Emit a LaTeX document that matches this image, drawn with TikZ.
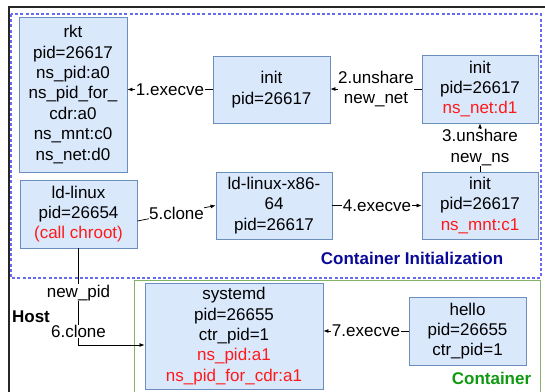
\documentclass[tikz,border=0pt]{standalone}
\usepackage{fontspec}
\setmainfont{Liberation Sans}
\usetikzlibrary{arrows.meta}
\definecolor{procfill}{HTML}{DAE8FC}
\definecolor{procdraw}{HTML}{6C8EBF}
\definecolor{nsred}{HTML}{FF1A1A}
\definecolor{initblue}{HTML}{0A0A99}
\definecolor{initdash}{HTML}{6A6AF0}
\definecolor{ctrgreen}{HTML}{119911}
\definecolor{ctrdraw}{HTML}{82B366}

\begin{document}
\begin{tikzpicture}[x=1pt,y=-1pt,
  font=\fontsize{17}{20.4}\selectfont,
  proc/.style={draw=procdraw,fill=procfill,align=center,inner sep=0pt,line width=0.9pt},
  arr/.style={-{Latex[length=5pt,width=4pt]},line width=0.7pt},
  lbl/.style={fill=white,inner sep=0.5pt,align=center}]

  \clip (0,0) rectangle (545,391);

  % host, init area and container frames
  \draw[line width=1.2pt,black!85] (9,400) -- (9,7) -- (560,7);
  \draw[initdash,line width=1.1pt,dash pattern=on 3pt off 2.2pt] (11,14) rectangle (541,278);
  \draw[ctrdraw,line width=1pt] (134.5,280) rectangle (540,400);

  % processes in the init area
  \node[proc,minimum width=108pt,minimum height=155pt] (rkt) at (73,94.5)
    {rkt\\pid=26617\\ns\_pid:a0\\ns\_pid\_for\_\\cdr:a0\\ns\_mnt:c0\\ns\_net:d0};
  \node[proc,minimum width=117pt,minimum height=67pt] (initA) at (271.5,89.5) {init\\pid=26617};
  \node[proc,minimum width=116pt,minimum height=68pt] (initB) at (480,89)
    {init\\pid=26617\\\textcolor{nsred}{ns\_net:d1}};
  \node[proc,minimum width=117pt,minimum height=68pt] (ldlinux) at (78.5,214)
    {ld-linux\\pid=26654\\\textcolor{nsred}{(call chroot)}};
  \node[proc,minimum width=116pt,minimum height=67pt] (ldx86) at (274,205.5)
    {ld-linux-x86-\\64\\pid=26617};
  \node[proc,minimum width=116pt,minimum height=67pt] (initC) at (480,205.5)
    {init\\pid=26617\\\textcolor{nsred}{ns\_mnt:c1}};

  % processes in the container
  \node[proc,minimum width=178pt,minimum height=106pt] (systemd) at (234,336)
    {systemd\\pid=26655\\ctr\_pid=1\\\textcolor{nsred}{ns\_pid:a1}\\\textcolor{nsred}{ns\_pid\_for\_cdr:a1}};
  \node[proc,minimum width=117pt,minimum height=68pt] (hello) at (467.5,331)
    {hello\\pid=26655\\ctr\_pid=1};

  % system calls
  \draw[arr] (initA.west) -- node[lbl] {1.execve} (rkt.east |- initA.west);
  \draw[arr] (initB.west) -- node[lbl] {2.unshare\\new\_net} (initA.east |- initB.west);
  \draw[arr] (initC.north) -- node[lbl] {3.unshare\\new\_ns} (initB.south);
  \draw[arr] (ldx86.east) -- node[lbl] {4.execve} (initC.west);
  \draw[arr] ([yshift=-7pt]ldlinux.east) -- node[lbl] {5.clone} (ldx86.west);
  \draw[arr] (ldlinux.south) |- node[lbl,pos=0.23] {new\_pid} node[lbl,pos=0.43] {6.clone}
    ([yshift=-9pt]systemd.west);
  \draw[arr] (hello.west) -- node[lbl] {7.execve} (systemd.east |- hello.west);

  % area names
  \node[font=\fontsize{17}{20.4}\selectfont\bfseries] (host) at (31,317) {Host};
  \node[font=\fontsize{17}{20.4}\selectfont\bfseries,text=initblue] (initname) at (412,258) {Container Initialization};
  \node[font=\fontsize{17}{20.4}\selectfont\bfseries,text=ctrgreen] (ctrname) at (491.5,378) {Container};

\end{tikzpicture}
\end{document}
